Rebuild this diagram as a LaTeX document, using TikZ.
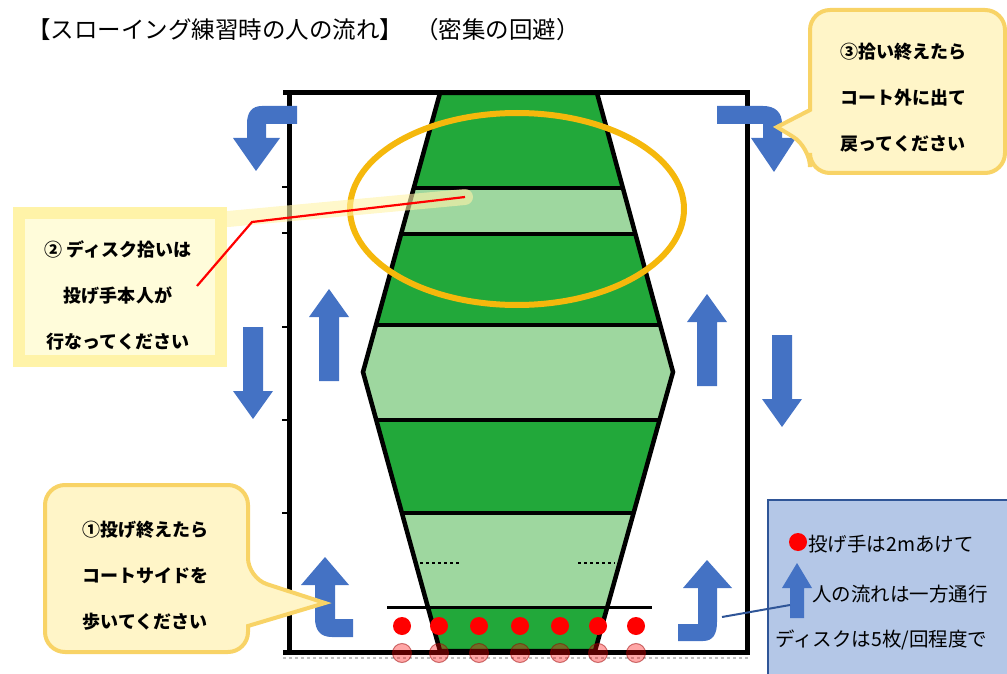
\documentclass[tikz,border=0pt]{standalone}
\usepackage{fontspec}
\setmainfont{Noto Sans CJK JP}
\definecolor{turf}{HTML}{22A83A}
\definecolor{turflight}{HTML}{9ED79F}
\definecolor{flowblue}{HTML}{4472C4}
\definecolor{ringgold}{HTML}{F5B80C}
\definecolor{notefill}{HTML}{FFF5C8}
\definecolor{noteedge}{HTML}{F8D366}
\definecolor{paleglow}{HTML}{FFF3A8}
\definecolor{palefill}{HTML}{FFFCDA}
\definecolor{legfill}{HTML}{B4C7E7}
\definecolor{legedge}{HTML}{2F5597}
\tikzset{
  flow/.style={fill=flowblue},
  court/.style={line width=5pt},
  stripe/.style={line width=3.5pt},
  note/.style={fill=notefill, draw=noteedge, line width=4pt},
  notetext/.style={align=center, inner sep=0pt, font=\bfseries\fontsize{18}{46}\selectfont},
  legtext/.style={anchor=west, inner sep=0pt, font=\fontsize{19.5}{21}\selectfont},
  thrower/.style={fill=red},
  ghost/.style={fill=red, fill opacity=.35, draw=red!60!black, draw opacity=.5, line width=1pt},
  uparrow/.pic={\fill[flow] (-10,0) -- (-10,-64) -- (-20,-64) -- (0,-92) -- (20,-64) -- (10,-64) -- (10,0) -- cycle;}
}
\begin{document}
\begin{tikzpicture}[x=1pt,y=-1pt]
\useasboundingbox (0,0) rectangle (1007,674);
\node[anchor=west, inner sep=0pt] (title) at (27,30) {\fontsize{23.5}{25}\selectfont 【スローイング練習時の人の流れ】\hspace{12pt}（密集の回避）};
% field
\fill[turf] (440,93) -- (597,93) -- (673,372) -- (595,651) -- (440,651) -- (363,372) -- cycle;
\begin{scope}
\clip (440,93) -- (597,93) -- (673,372) -- (595,651) -- (440,651) -- (363,372) -- cycle;
\fill[turflight] (300,188) rectangle (700,234);
\fill[turflight] (300,325) rectangle (700,420);
\fill[turflight] (300,513) rectangle (700,607);
\draw[stripe] (300,188) -- (700,188);
\draw[stripe] (300,234) -- (700,234);
\draw[stripe] (300,325) -- (700,325);
\draw[stripe] (300,420) -- (700,420);
\draw[stripe] (300,513) -- (700,513);
\end{scope}
\draw[line width=4.5pt] (440,93) -- (597,93) -- (673,372) -- (595,651) -- (440,651) -- (363,372) -- cycle;
\draw[line width=3pt] (387,607) -- (652,607);
\draw[line width=2.5pt, dash pattern=on 3pt off 3pt] (420,563) -- (460,563);
\draw[line width=2.5pt, dash pattern=on 3pt off 3pt] (578,563) -- (615,563);
% court
\draw[court] (283,93) -- (747,93) -- (747,654);
\draw[court] (289,93) -- (289,652);
\draw[court] (283,652) -- (750,652);
\draw[gray!50, line width=1.2pt, dashed] (283,658) -- (750,658);
\draw[line width=1.5pt] (282,187) -- (289,187) (282,233) -- (289,233) (282,327) -- (289,327) (282,420) -- (289,420) (282,513) -- (289,513);
% throwers
\fill[thrower] (402,626) circle (9) (439,626) circle (9) (479,626) circle (9) (520,626) circle (9) (560,626) circle (9) (598,626) circle (9) (636,626) circle (9);
\draw[ghost] (402,653) circle (9.5) (439,653) circle (9.5) (479,653) circle (9.5) (520,653) circle (9.5) (560,653) circle (9.5) (598,653) circle (9.5) (636,653) circle (9.5);
% flow arrows
\pic at (329,381) {uparrow};
\pic[rotate=180] at (253,327) {uparrow};
\pic at (707,386) {uparrow};
\pic[rotate=180] at (782,335) {uparrow};
\fill[flow] (297,106) -- (262,106) .. controls (252,106) and (247,112) .. (247,124) -- (247,138) -- (233,138) -- (256,171) -- (280,138) -- (266,138) -- (266,124) -- (297,124) -- cycle;
\fill[flow] (717,106) -- (763,106) .. controls (775,106) and (782,112) .. (782,124) -- (782,138) -- (796,138) -- (774,172) -- (751,138) -- (763,138) -- (763,124) -- (717,124) -- cycle;
\fill[flow] (353,637) -- (332,637) .. controls (320,637) and (315,630) .. (315,618) -- (315,585) -- (301,585) -- (325,557) -- (349,585) -- (335,585) -- (335,619) -- (353,619) -- cycle;
\fill[flow] (678,641) -- (703,641) .. controls (713,641) and (717,634) .. (717,622) -- (717,588) -- (732,588) -- (707,560) -- (683,588) -- (698,588) -- (698,624) -- (678,624) -- cycle;
% pick-up zone
\draw[ringgold, line width=6pt] (517,209) ellipse [x radius=167, y radius=96];
% notes
\draw[line width=12pt, draw=paleglow, fill=palefill] (19,213) rectangle (221,361);
\node[notetext] (note2) at (118,295) {② ディスク拾いは\\投げ手本人が\\行なってください};
\coordinate (from2) at (197,286);
\coordinate (bend) at (252,222);
\coordinate (hot) at (465,197);
\draw[paleglow, line width=16pt, line cap=round, opacity=.6] (228,219) -- (hot);
\draw[red, line width=2.2pt] (from2) -- (bend) -- (hot);
\draw[note, rounded corners=20pt] (810,10) -- (1005,10) -- (1005,173) -- (810,173) -- (810,147) [sharp corners] -- (777,127) -- (810,110) [rounded corners=20pt] -- cycle;
\node[notetext] (note3) at (903,98) {③拾い終えたら\\コート外に出て\\戻ってください};
\draw[note, rounded corners=20pt] (45,485) -- (248,485) -- (248,578) [sharp corners] -- (325,603) -- (248,626) [rounded corners=20pt] -- (248,652) -- (45,652) -- cycle;
\node[notetext] (note1) at (145,576) {①投げ終えたら\\コートサイドを\\歩いてください};
% legend
\draw[fill=legfill, draw=legedge, line width=1.5pt] (768,500) rectangle (1015,685);
\fill[thrower] (798,542) circle (9);
\fill[flow] (790,618) -- (790,588) -- (782,588) -- (797,563) -- (812,588) -- (804,588) -- (804,618) -- cycle;
\node[legtext] (leg1) at (808,544) {投げ手は2mあけて};
\node[legtext] (leg2) at (812,594) {人の流れは一方通行};
\node[legtext] (leg3) at (775,640) {ディスクは5枚/回程度で};
\coordinate (hook) at (722,617);
\coordinate (legarr) at (790,605);
\draw[legedge, line width=2pt] (hook) -- (legarr);
\end{tikzpicture}
\end{document}
